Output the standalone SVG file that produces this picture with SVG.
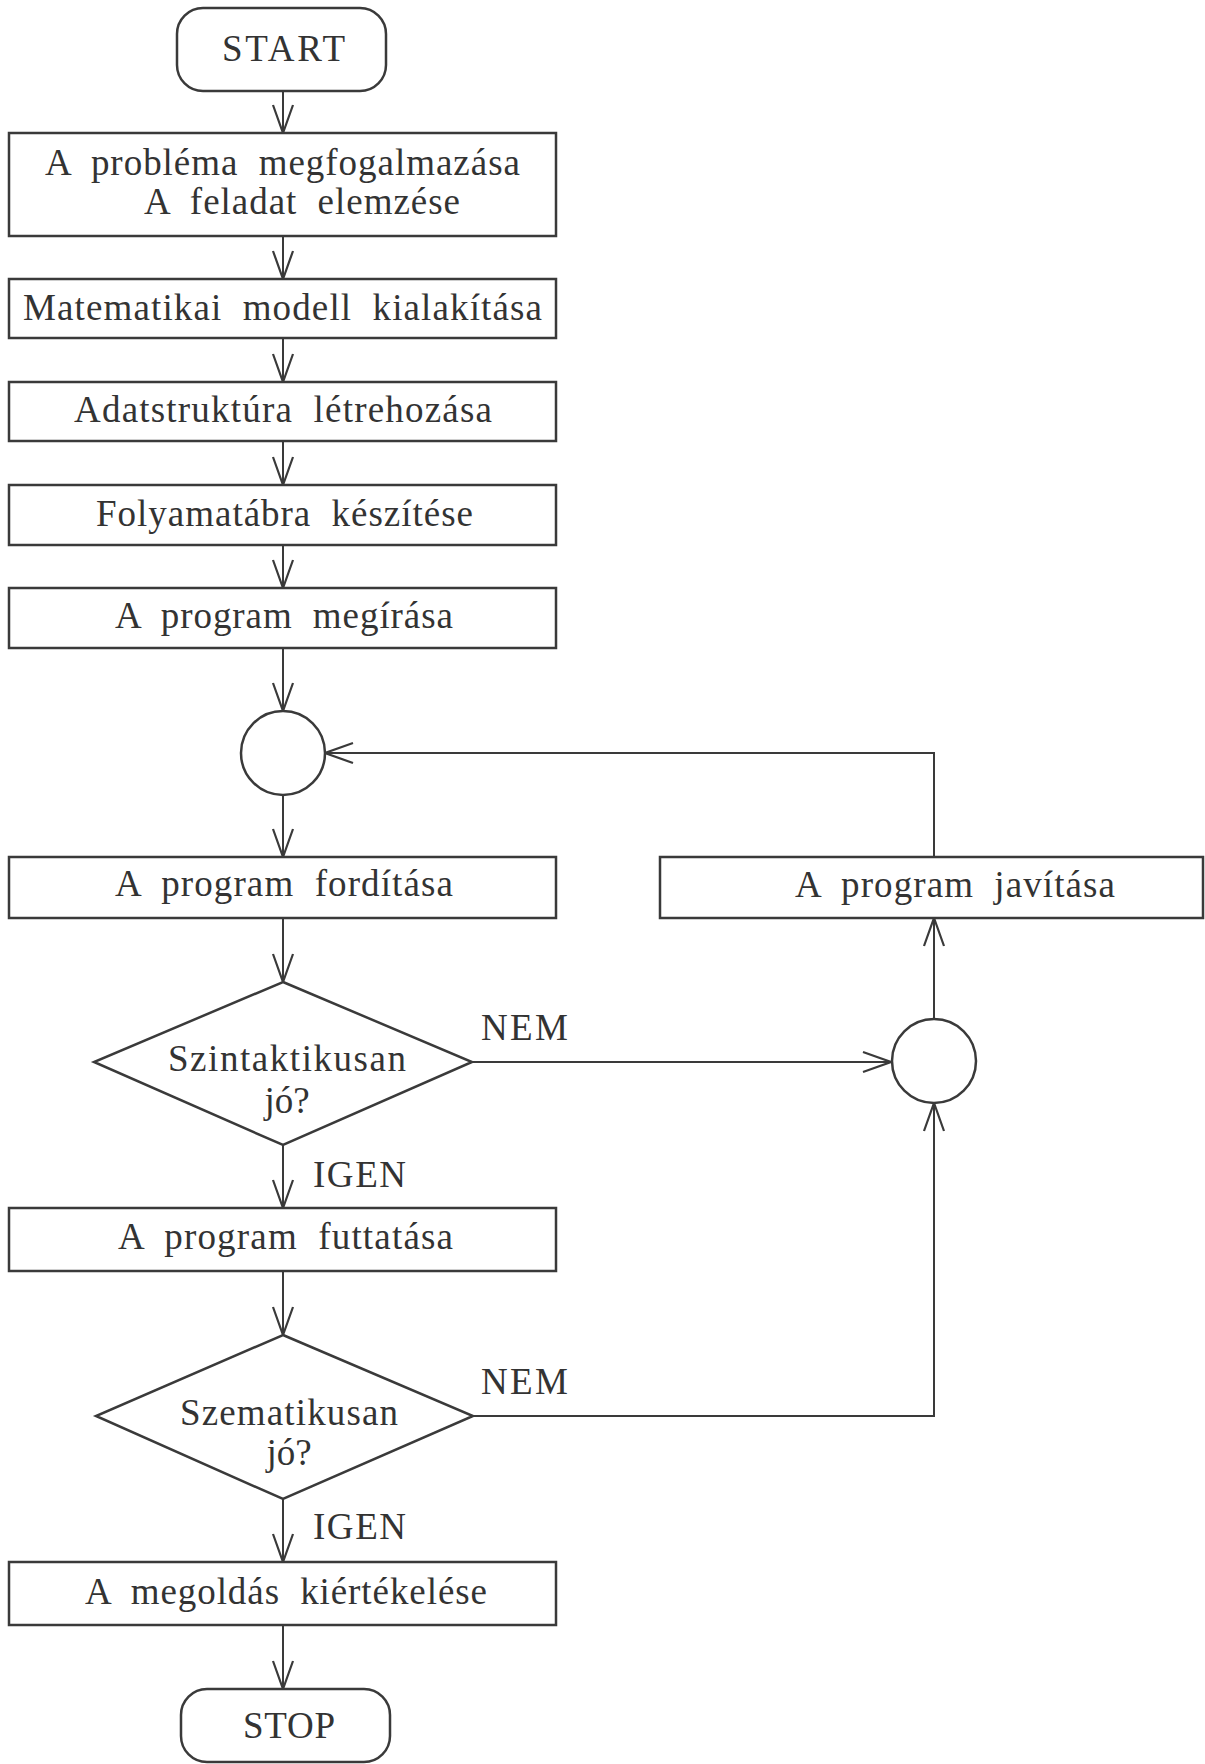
<svg xmlns="http://www.w3.org/2000/svg" width="1205" height="1764" viewBox="0 0 1205 1764">
  <style>
    .shape { fill: #ffffff; stroke: #3a3a3a; stroke-width: 2.5; }
    .line { fill: none; stroke: #3a3a3a; stroke-width: 2; }
    .lbl { font-family: "Liberation Serif", "Times New Roman", serif; font-size: 37px; fill: #333333; }
    .mid { text-anchor: middle; }
  </style>
  <defs>
    <marker id="arrow" viewBox="-30 -12 32 24" refX="0" refY="0" markerWidth="32" markerHeight="24" markerUnits="userSpaceOnUse" orient="auto">
      <path d="M -28 -10 L 0 0 L -28 10" fill="none" stroke="#3a3a3a" stroke-width="2.2"/>
    </marker>
  </defs>

  <rect width="1205" height="1764" fill="#ffffff"/>

  <!-- connectors -->
  <g id="connectors">
    <line class="line" x1="283" y1="91" x2="283" y2="133" marker-end="url(#arrow)"/>
    <line class="line" x1="283" y1="236" x2="283" y2="279" marker-end="url(#arrow)"/>
    <line class="line" x1="283" y1="338" x2="283" y2="382" marker-end="url(#arrow)"/>
    <line class="line" x1="283" y1="441" x2="283" y2="485" marker-end="url(#arrow)"/>
    <line class="line" x1="283" y1="545" x2="283" y2="588" marker-end="url(#arrow)"/>
    <line class="line" x1="283" y1="648" x2="283" y2="711" marker-end="url(#arrow)"/>
    <line class="line" x1="283" y1="795" x2="283" y2="857" marker-end="url(#arrow)"/>
    <line class="line" x1="283" y1="918" x2="283" y2="982" marker-end="url(#arrow)"/>
    <line class="line" x1="283" y1="1145" x2="283" y2="1208" marker-end="url(#arrow)"/>
    <line class="line" x1="283" y1="1271" x2="283" y2="1335" marker-end="url(#arrow)"/>
    <line class="line" x1="283" y1="1499" x2="283" y2="1562" marker-end="url(#arrow)"/>
    <line class="line" x1="283" y1="1625" x2="283" y2="1689" marker-end="url(#arrow)"/>
    <!-- NEM branch from the syntax check -->
    <line class="line" x1="472" y1="1062" x2="891" y2="1062" marker-end="url(#arrow)"/>
    <!-- NEM branch from the semantic check -->
    <polyline class="line" points="473,1416 934,1416 934,1103" marker-end="url(#arrow)"/>
    <!-- merge point up to the correction step -->
    <line class="line" x1="934" y1="1019" x2="934" y2="918" marker-end="url(#arrow)"/>
    <!-- loop back to the compile step -->
    <polyline class="line" points="934,857 934,753 325,753" marker-end="url(#arrow)"/>
  </g>

  <g id="start">
    <rect class="shape" x="177" y="8" width="209" height="83" rx="26" ry="26"/>
    <text class="lbl" x="222" y="61" font-size="39" textLength="123" lengthAdjust="spacing">START</text>
  </g>

  <g id="problem">
    <rect class="shape" x="9" y="133" width="547" height="103"/>
    <text class="lbl" x="45" y="175" textLength="475" lengthAdjust="spacing" word-spacing="10">A probléma megfogalmazása</text>
    <text class="lbl" x="144" y="214" textLength="316" lengthAdjust="spacing" word-spacing="10">A feladat elemzése</text>
  </g>

  <g id="model">
    <rect class="shape" x="9" y="279" width="547" height="59"/>
    <text class="lbl" x="23" y="320" textLength="519" lengthAdjust="spacing" word-spacing="10">Matematikai modell kialakítása</text>
  </g>

  <g id="datastructure">
    <rect class="shape" x="9" y="382" width="547" height="59"/>
    <text class="lbl" x="74" y="422" textLength="418" lengthAdjust="spacing" word-spacing="10">Adatstruktúra létrehozása</text>
  </g>

  <g id="flowchart">
    <rect class="shape" x="9" y="485" width="547" height="60"/>
    <text class="lbl" x="96" y="526" textLength="377" lengthAdjust="spacing" word-spacing="10">Folyamatábra készítése</text>
  </g>

  <g id="write">
    <rect class="shape" x="9" y="588" width="547" height="60"/>
    <text class="lbl" x="115" y="628" textLength="338" lengthAdjust="spacing" word-spacing="10">A program megírása</text>
  </g>

  <g id="join1">
    <circle class="shape" cx="283" cy="753" r="42"/>
  </g>

  <g id="compile">
    <rect class="shape" x="9" y="857" width="547" height="61"/>
    <text class="lbl" x="115" y="896" textLength="338" lengthAdjust="spacing" word-spacing="10">A program fordítása</text>
  </g>

  <g id="fix">
    <rect class="shape" x="660" y="857" width="543" height="61"/>
    <text class="lbl" x="795" y="897" textLength="320" lengthAdjust="spacing" word-spacing="10">A program javítása</text>
  </g>

  <g id="syntax">
    <polygon class="shape" points="283,982 472,1062 283,1145 94,1062"/>
    <text class="lbl" x="168" y="1071" textLength="238" lengthAdjust="spacing">Szintaktikusan</text>
    <text class="lbl mid" x="287" y="1113">jó?</text>
  </g>

  <g id="join2">
    <circle class="shape" cx="934" cy="1061" r="42"/>
  </g>

  <g id="run">
    <rect class="shape" x="9" y="1208" width="547" height="63"/>
    <text class="lbl" x="118" y="1249" textLength="335" lengthAdjust="spacing" word-spacing="10">A program futtatása</text>
  </g>

  <g id="semantic">
    <polygon class="shape" points="283,1335 473,1416 283,1499 96,1416"/>
    <text class="lbl" x="180" y="1425" textLength="218" lengthAdjust="spacing">Szematikusan</text>
    <text class="lbl mid" x="289" y="1465">jó?</text>
  </g>

  <g id="evaluate">
    <rect class="shape" x="9" y="1562" width="547" height="63"/>
    <text class="lbl" x="85" y="1604" textLength="402" lengthAdjust="spacing" word-spacing="10">A megoldás kiértékelése</text>
  </g>

  <g id="stop">
    <rect class="shape" x="181" y="1689" width="209" height="73" rx="26" ry="26"/>
    <text class="lbl" x="243" y="1738" font-size="39" textLength="92" lengthAdjust="spacing">STOP</text>
  </g>

  <!-- branch labels -->
  <g id="labels">
    <text class="lbl" x="481" y="1040" textLength="87" lengthAdjust="spacing">NEM</text>
    <text class="lbl" x="313" y="1187" textLength="93" lengthAdjust="spacing">IGEN</text>
    <text class="lbl" x="481" y="1394" textLength="87" lengthAdjust="spacing">NEM</text>
    <text class="lbl" x="313" y="1539" textLength="93" lengthAdjust="spacing">IGEN</text>
  </g>
</svg>
